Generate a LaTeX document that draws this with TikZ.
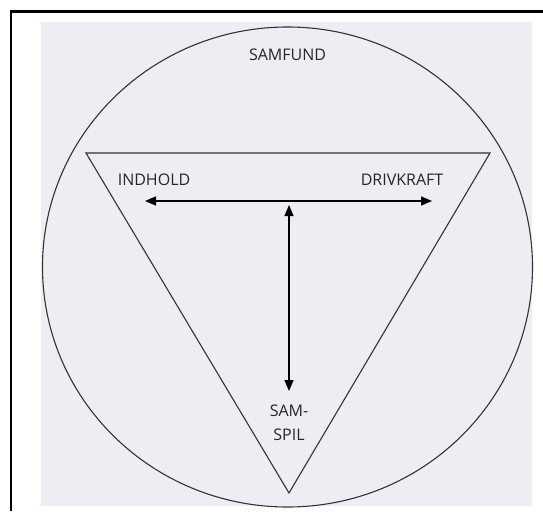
\documentclass[tikz,border=0pt]{standalone}
\usepackage{fontspec}
\setmainfont{Open Sans}
\usetikzlibrary{arrows.meta}
\definecolor{scan}{HTML}{EDEDF3}
\definecolor{ink}{HTML}{333333}
\tikzset{
  frameline/.style={line width=2.2pt,black},
  shapeline/.style={line width=1.1pt,ink},
  arrowline/.style={line width=1.3pt,black,{Triangle[length=11pt,width=9pt]}-{Triangle[length=11pt,width=9pt]}},
  lbl/.style={font=\fontsize{16}{24}\selectfont,text=black!85,inner sep=0pt,align=center}
}
\begin{document}
\begin{tikzpicture}[x=1pt,y=-1pt]
\useasboundingbox (0,0) rectangle (543,511);
\fill[white] (0,0) rectangle (543,511);
\fill[scan] (41,22) rectangle (532,506);
\draw[frameline] (10,11.5) -- (543,11.5);
\draw[frameline] (11,10.4) -- (11,511);
\draw[shapeline] (287.5,267) ellipse [x radius=245pt, y radius=240pt];
\coordinate (tl) at (86,153);
\coordinate (tr) at (490,153);
\coordinate (ap) at (289,493);
\draw[shapeline,line join=miter] (tl) -- (tr) -- (ap) -- cycle;
\node[lbl] (samfund) at (287.5,55) {SAMFUND};
\node[lbl] (indhold) at (154,179.5) {INDHOLD};
\node[lbl] (drivkraft) at (402,179.5) {DRIVKRAFT};
\node[lbl] (samspil) at (289,423) {SAM-\\SPIL};
\coordinate (hl) at (145,201);
\coordinate (hr) at (432,201);
\coordinate (vt) at (289,205);
\coordinate (vb) at (289,391);
\draw[arrowline] (hl) -- (hr);
\draw[arrowline] (vt) -- (vb);
\end{tikzpicture}
\end{document}
